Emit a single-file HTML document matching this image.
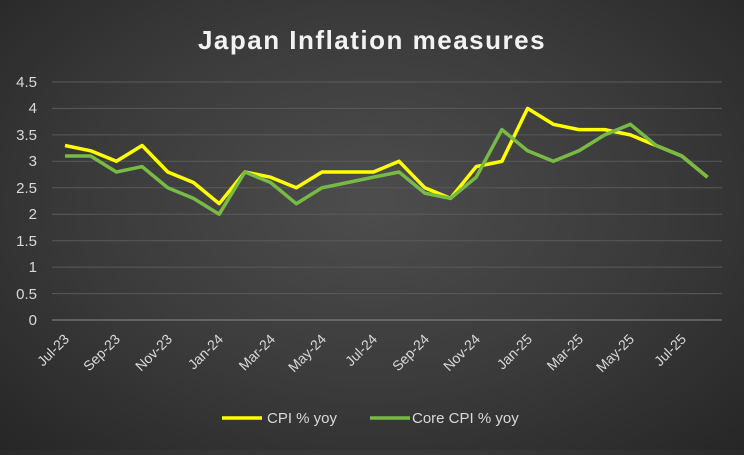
<!DOCTYPE html>
<html><head><meta charset="utf-8"><style>
html,body{margin:0;padding:0;}
body{width:744px;height:450px;overflow:hidden;background:radial-gradient(ellipse at 50% 45%,#4d4d4d 0%,#3a3a3a 55%,#262626 100%);font-family:"Liberation Sans",sans-serif;}
</style></head><body>
<svg width="744" height="450" xmlns="http://www.w3.org/2000/svg" font-family="Liberation Sans, sans-serif">
<text x="372" y="49" text-anchor="middle" font-size="26" font-weight="bold" fill="#f2f2f2" letter-spacing="1.5">Japan Inflation measures</text>
<g stroke="#5a5a5a" stroke-width="1">
<line x1="52" x2="722" y1="82" y2="82"/><line x1="52" x2="722" y1="108.4" y2="108.4"/><line x1="52" x2="722" y1="134.9" y2="134.9"/><line x1="52" x2="722" y1="161.3" y2="161.3"/><line x1="52" x2="722" y1="187.8" y2="187.8"/><line x1="52" x2="722" y1="214.2" y2="214.2"/><line x1="52" x2="722" y1="240.7" y2="240.7"/><line x1="52" x2="722" y1="267.1" y2="267.1"/><line x1="52" x2="722" y1="293.6" y2="293.6"/>
</g>
<line x1="52" x2="722" y1="320" y2="320" stroke="#8a8a8a"/>
<g font-size="15" fill="#d9d9d9" text-anchor="end">
<text x="37" y="87">4.5</text><text x="37" y="113">4</text><text x="37" y="140">3.5</text><text x="37" y="166">3</text><text x="37" y="193">2.5</text><text x="37" y="219">2</text><text x="37" y="246">1.5</text><text x="37" y="272">1</text><text x="37" y="299">0.5</text><text x="37" y="325">0</text>
</g>
<g font-size="14" fill="#d9d9d9" text-anchor="end">
<text transform="translate(70,340) rotate(-45)">Jul-23</text>
<text transform="translate(121,340) rotate(-45)">Sep-23</text>
<text transform="translate(173,340) rotate(-45)">Nov-23</text>
<text transform="translate(224,340) rotate(-45)">Jan-24</text>
<text transform="translate(276,340) rotate(-45)">Mar-24</text>
<text transform="translate(327,340) rotate(-45)">May-24</text>
<text transform="translate(378,340) rotate(-45)">Jul-24</text>
<text transform="translate(430,340) rotate(-45)">Sep-24</text>
<text transform="translate(481,340) rotate(-45)">Nov-24</text>
<text transform="translate(533,340) rotate(-45)">Jan-25</text>
<text transform="translate(584,340) rotate(-45)">Mar-25</text>
<text transform="translate(635,340) rotate(-45)">May-25</text>
<text transform="translate(687,340) rotate(-45)">Jul-25</text>
</g>
<polyline fill="none" stroke="#ffff00" stroke-width="3.5" stroke-linejoin="round" points="65,145.5 90.7,150.8 116.4,161.3 142.1,145.5 167.8,172 193.5,182.5 219.2,203.7 244.9,172 270.6,177.2 296.3,187.8 322,172 347.7,172 373.4,172 399.1,161.3 424.8,187.8 450.5,198.4 476.2,166.6 501.9,161.3 527.6,108.4 553.3,124.3 579,129.6 604.7,129.6 630.4,134.9 656.1,145.5 681.8,156 707.5,177.2"/>
<polyline fill="none" stroke="#77bb44" stroke-width="3.5" stroke-linejoin="round" points="65,156 90.7,156 116.4,172 142.1,166.6 167.8,187.8 193.5,198.4 219.2,214.2 244.9,172 270.6,182.5 296.3,203.7 322,187.8 347.7,182.5 373.4,177.2 399.1,172 424.8,193.1 450.5,198.4 476.2,177.2 501.9,129.6 527.6,150.8 553.3,161.3 579,150.8 604.7,134.9 630.4,124.3 656.1,145.5 681.8,156 707.5,177.2"/>
<line x1="222" x2="262" y1="418" y2="418" stroke="#ffff00" stroke-width="3.5"/>
<text x="267" y="423" font-size="15" fill="#d9d9d9">CPI % yoy</text>
<line x1="370" x2="410" y1="418" y2="418" stroke="#77bb44" stroke-width="3.5"/>
<text x="412" y="423" font-size="15" fill="#d9d9d9">Core CPI % yoy</text>
</svg>
</body></html>
